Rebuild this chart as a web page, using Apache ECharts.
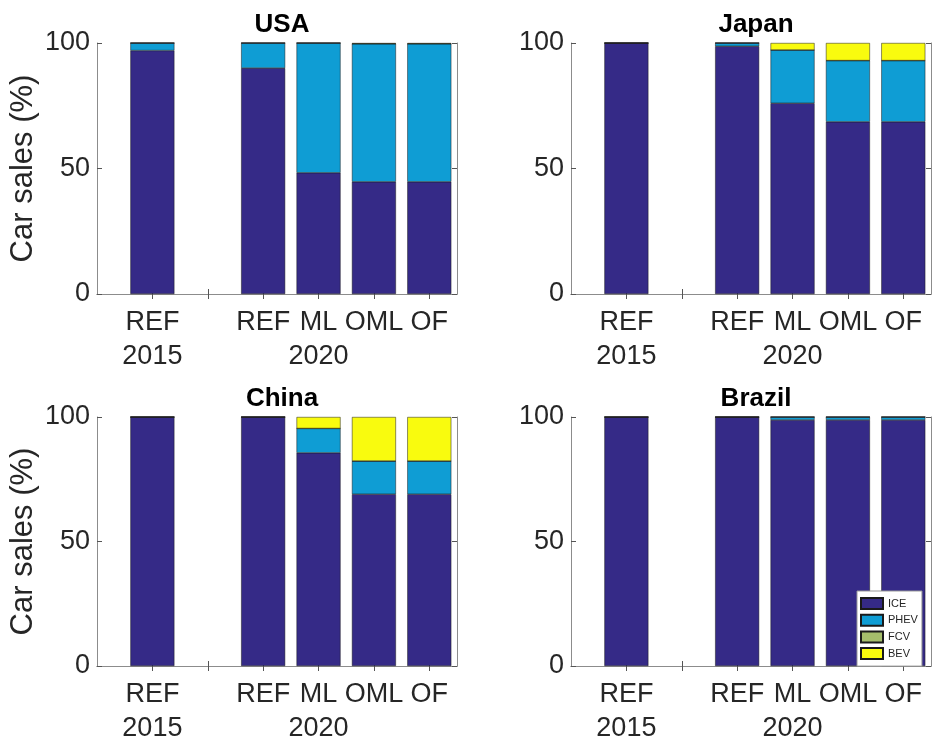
<!DOCTYPE html>
<html><head><meta charset="utf-8">
<script src="https://cdn.jsdelivr.net/npm/echarts@6/dist/echarts.min.js"></script>
<style>html,body{margin:0;padding:0;background:#fff}#c{width:932px;height:746px}</style>
</head><body><div id="c"></div>
<script>
// ---- data ----
const regions = ['USA', 'Japan', 'China', 'Brazil'];
const scenarios = ['REF', '', 'REF', 'ML', 'OML', 'OF'];
const years = ['2015', '', '', '2020', '', ''];
const slotPos = [1, 2, 3, 4, 5, 6];
const seriesNames = ['ICE', 'PHEV', 'FCV', 'BEV'];
const seriesColors = ['#352a87', '#0f9dd4', '#a5be6b', '#f9fb0e'];

const usaICE  = [97, null, 90, 48.3, 44.7, 44.7];
const usaPHEV = [3, null, 10, 51.7, 55.0, 55.0];
const usaFCV  = [0, null, 0, 0, 0, 0];
const usaBEV  = [0, null, 0, 0, 0.3, 0.3];

const japanICE  = [100, null, 98.7, 76.0, 68.6, 68.6];
const japanPHEV = [0, null, 1.3, 21.2, 24.4, 24.4];
const japanFCV  = [0, null, 0, 0, 0, 0];
const japanBEV  = [0, null, 0, 2.8, 7.0, 7.0];

const chinaICE  = [100, null, 100, 85.6, 69.0, 69.0];
const chinaPHEV = [0, null, 0, 9.8, 13.3, 13.3];
const chinaFCV  = [0, null, 0, 0, 0, 0];
const chinaBEV  = [0, null, 0, 4.6, 17.7, 17.7];

const brazilICE  = [100, null, 100, 98.8, 98.8, 98.8];
const brazilPHEV = [0, null, 0, 1.2, 1.2, 1.2];
const brazilFCV  = [0, null, 0, 0, 0, 0];
const brazilBEV  = [0, null, 0, 0, 0, 0];

const regionData = [
  [usaICE, usaPHEV, usaFCV, usaBEV],
  [japanICE, japanPHEV, japanFCV, japanBEV],
  [chinaICE, chinaPHEV, chinaFCV, chinaBEV],
  [brazilICE, brazilPHEV, brazilFCV, brazilBEV]
];
const yTicks = [0, 50, 100];

// ---- layout ----
const FONT = 'Liberation Sans, Arial, sans-serif';
const grids = [
  {left: 97, top: 43, width: 360, height: 251},
  {left: 571, top: 43, width: 360, height: 251},
  {left: 97, top: 417, width: 360, height: 250},
  {left: 571, top: 417, width: 360, height: 250}
];
// half-unit positions from 0 to 6.5 (axis scaffolding)
const axisCats = [];
for (let i = 0; i <= 13; i++) axisCats.push(String(i / 2));
function toAxis(vals) {
  const arr = axisCats.map(() => null);
  slotPos.forEach((p, i) => { arr[p * 2] = vals[i]; });
  return arr;
}
const isSlot = (idx) => idx % 2 === 0 && idx >= 2;

const option = {
  animation: false,
  backgroundColor: '#fff',
  title: [], grid: [], xAxis: [], yAxis: [], series: [],
  legend: {
    data: seriesNames, orient: 'vertical', left: 857, top: 591, icon: 'rect',
    itemWidth: 22, itemHeight: 11, itemGap: 3.7, selectedMode: false,
    padding: [6, 4, 6, 3], borderColor: '#999', borderWidth: 1, backgroundColor: '#fff',
    textStyle: {fontSize: 11, fontFamily: FONT, color: '#262626'}, z: 10
  }
};

grids.forEach((g, gi) => {
  option.grid.push(Object.assign({containLabel: false}, g));
  option.title.push({
    text: regions[gi], left: g.left + g.width / 2, top: g.top - 36, textAlign: 'center',
    textStyle: {fontSize: 26, fontWeight: 'bold', color: '#000', fontFamily: FONT}
  });
  const axLine = {lineStyle: {color: '#8c8c8c', width: 1}};
  const tick = {inside: true, length: 5, lineStyle: {color: '#555'}};
  option.xAxis.push({
    type: 'category', gridIndex: gi, data: axisCats, boundaryGap: false,
    axisLine: axLine, axisTick: Object.assign({interval: (i) => isSlot(i)}, tick),
    axisLabel: {
      interval: (i) => isSlot(i), margin: 12, fontSize: 27, lineHeight: 34,
      color: '#262626', fontFamily: FONT, verticalAlign: 'top',
      formatter: (v, i) => {
        const s = i / 2 - 1;
        return scenarios[s] + (years[s] ? '\n' + years[s] : '');
      }
    },
    splitLine: {show: false}
  });
  option.xAxis.push({
    type: 'category', gridIndex: gi, data: axisCats, boundaryGap: false, position: 'top',
    axisLine: axLine, axisTick: Object.assign({interval: (i) => isSlot(i)}, tick),
    axisLabel: {show: false}, splitLine: {show: false}
  });
  option.yAxis.push({
    type: 'value', gridIndex: gi, min: yTicks[0], max: yTicks[2], interval: yTicks[1] - yTicks[0],
    axisLine: Object.assign({show: true}, axLine), axisTick: Object.assign({show: true}, tick),
    axisLabel: {fontSize: 27, margin: 7, color: '#262626', fontFamily: FONT},
    splitLine: {show: false},
    name: gi % 2 === 0 ? 'Car sales (%)' : '', nameLocation: 'middle', nameRotate: 90, nameGap: 58,
    nameTextStyle: {fontSize: 31, color: '#262626', fontFamily: FONT}
  });
  option.yAxis.push({
    type: 'value', gridIndex: gi, position: 'right', min: yTicks[0], max: yTicks[2], interval: yTicks[1] - yTicks[0],
    axisLine: Object.assign({show: true}, axLine), axisTick: Object.assign({show: true}, tick),
    axisLabel: {show: false}, splitLine: {show: false}
  });
  seriesNames.forEach((nm, si) => {
    option.series.push({
      name: nm, type: 'bar', stack: 'r' + gi,
      xAxisIndex: gi * 2, yAxisIndex: gi * 2,
      data: toAxis(regionData[gi][si]), barWidth: 44,
      itemStyle: {color: seriesColors[si], borderColor: '#1a1a1a', borderWidth: 0.5},
      emphasis: {disabled: true}, z: 2
    });
  });
});

const chart = echarts.init(document.getElementById('c'), null, {renderer: 'canvas'});
chart.setOption(option);
</script>
</body></html>
